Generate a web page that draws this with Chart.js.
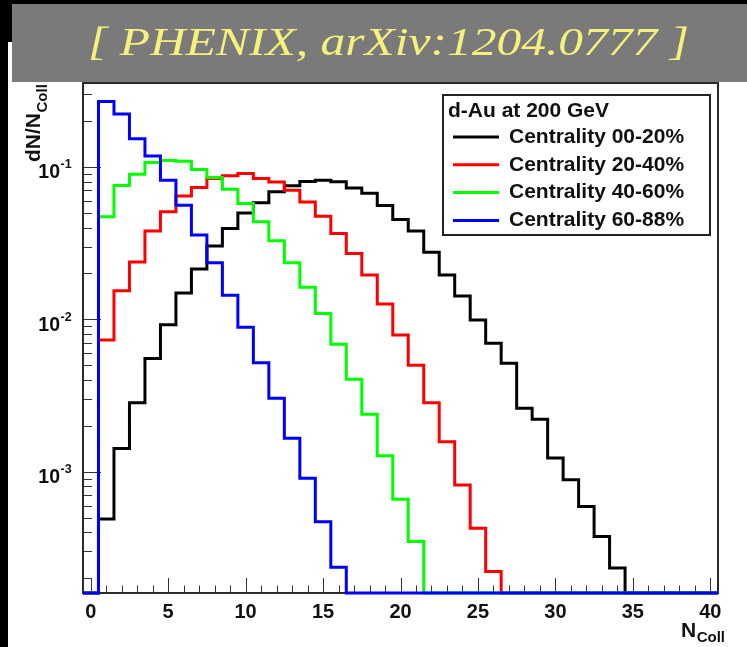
<!DOCTYPE html>
<html>
<head>
<meta charset="utf-8">
<script src="https://cdn.jsdelivr.net/npm/chart.js@4.4.1/dist/chart.umd.min.js"></script>
<style>
  html, body { margin: 0; padding: 0; background: #000; }
  canvas { display: block; }
</style>
</head>
<body>
<canvas id="chart" width="747" height="647" style="width:747px;height:647px"></canvas>
<script>
// N_coll bins (integer centred, width 1)
const N_COLL_BINS = [0, 1, 2, 3, 4, 5, 6, 7, 8, 9, 10, 11, 12, 13, 14, 15, 16, 17, 18, 19, 20,
                     21, 22, 23, 24, 25, 26, 27, 28, 29, 30, 31, 32, 33, 34, 35, 36, 37, 38, 39, 40];

// dN/N_coll per centrality class
const CENT_00_20 = [0, 0.00049, 0.00142, 0.00283, 0.00553, 0.0092, 0.0149, 0.0214, 0.0302, 0.0394,
                    0.0499, 0.0581, 0.0686, 0.0752, 0.0803, 0.0818, 0.0800, 0.0727, 0.0670, 0.0558,
                    0.0452, 0.0379, 0.0275, 0.0195, 0.0142, 0.00989, 0.00696, 0.00514, 0.00261, 0.00221,
                    0.00123, 0.000884, 0.00059, 0.000376, 0.000233, 0, 0, 0, 0, 0, 0];
const CENT_20_40 = [0, 0.0073, 0.0154, 0.0238, 0.038, 0.0507, 0.0643, 0.0732, 0.0839, 0.0873,
                    0.0904, 0.0839, 0.0797, 0.0703, 0.0589, 0.0475, 0.0366, 0.027, 0.0195, 0.0126,
                    0.0079, 0.0050, 0.00283, 0.00157, 0.000818, 0.000425, 0.000221, 0, 0, 0,
                    0, 0, 0, 0, 0, 0, 0, 0, 0, 0, 0];
const CENT_40_60 = [0, 0.047, 0.0755, 0.0894, 0.107, 0.110, 0.109, 0.096, 0.0852, 0.0714,
                    0.0575, 0.0436, 0.0327, 0.0235, 0.0162, 0.0109, 0.00687, 0.00404, 0.00238, 0.00127,
                    0.000659, 0.000348, 0, 0, 0, 0, 0, 0, 0, 0,
                    0, 0, 0, 0, 0, 0, 0, 0, 0, 0, 0];
const CENT_60_88 = [0, 0.268, 0.222, 0.153, 0.118, 0.0818, 0.0561, 0.0357, 0.0235, 0.0144,
                    0.00885, 0.00519, 0.00303, 0.00166, 0.000906, 0.00047, 0.000236, 0, 0, 0,
                    0, 0, 0, 0, 0, 0, 0, 0, 0, 0,
                    0, 0, 0, 0, 0, 0, 0, 0, 0, 0, 0];

const SERIES_LABELS = ['Centrality 00-20%', 'Centrality 20-40%', 'Centrality 40-60%', 'Centrality 60-88%'];
const SERIES_COLORS = ['#000000', '#ff0000', '#00ff00', '#0000ff'];

const X_TICKS = [0, 5, 10, 15, 20, 25, 30, 35, 40];
const Y_DECADES = [0.001, 0.01, 0.1];
const Y_TICK_BASE = ['10', '10', '10'];
const Y_TICK_EXP = ['-3', '-2', '-1'];

const X_MIN = -0.5, X_MAX = 40.5;
const Y_MIN = 1.6e-4, Y_MAX = 0.355;

const BANNER = '[ PHENIX, arXiv:1204.0777 ]';
const LEGEND_HEADER = 'd-Au at 200 GeV';
const SANS = '"Liberation Sans", Arial, Helvetica, sans-serif';

// Histogram outline: one point at each bin's low edge, empty bins sit on the axis floor
function histPoints(values) {
  const pts = values.map((v, i) => ({ x: N_COLL_BINS[i] - 0.5, y: v > 0 ? v : Y_MIN }));
  pts.push({ x: N_COLL_BINS[N_COLL_BINS.length - 1] + 0.5, y: pts[pts.length - 1].y });
  return pts;
}

const SERIES = [CENT_00_20, CENT_20_40, CENT_40_60, CENT_60_88];

const datasets = SERIES.map((vals, i) => ({
  label: SERIES_LABELS[i],
  data: histPoints(vals),
  borderColor: SERIES_COLORS[i],
  backgroundColor: SERIES_COLORS[i],
  borderWidth: 3,
  stepped: 'before',
  pointRadius: 0,
  fill: false,
  borderJoinStyle: 'miter',
  borderCapStyle: 'butt',
  order: SERIES.length - 1 - i,
  clip: 4
}));

// Page backdrop and reference banner
const pagePlugin = {
  id: 'page',
  beforeDraw(chart) {
    const c = chart.ctx;
    c.save();
    c.fillStyle = '#000';
    c.fillRect(0, 0, chart.width, chart.height);
    c.fillStyle = '#fff';
    c.fillRect(8, 42, chart.width - 8, chart.height - 42);
    c.fillStyle = '#7a7a7a';
    c.fillRect(12, 4, chart.width - 12, 78);
    c.font = 'italic 39px "Liberation Serif", "DejaVu Serif", serif';
    const w = c.measureText(BANNER).width;
    c.translate(388.5, 55);
    c.scale(601 / w, 1);
    c.textAlign = 'center';
    c.textBaseline = 'alphabetic';
    c.fillStyle = '#f6f17c';
    c.fillText(BANNER, 0, 0);
    c.restore();
  }
};

// Frame with inward ROOT-style ticks
const framePlugin = {
  id: 'frame',
  beforeDatasetsDraw(chart) {
    const { ctx: c, chartArea: a, scales: { x, y } } = chart;
    c.save();
    c.strokeStyle = '#333';
    c.lineWidth = 1;
    for (let v = Math.ceil(x.min); v <= x.max; v++) {
      const px = Math.round(x.getPixelForValue(v)) + 0.5;
      const len = X_TICKS.includes(v) ? 15 : 7.5;
      c.beginPath();
      c.moveTo(px, a.bottom);
      c.lineTo(px, a.bottom - len);
      c.stroke();
    }
    const e0 = Math.floor(Math.log10(y.min)), e1 = Math.ceil(Math.log10(y.max));
    for (let e = e0; e <= e1; e++) {
      for (let k = 1; k <= 9; k++) {
        const v = k * Math.pow(10, e);
        if (v < y.min || v > y.max) continue;
        const py = Math.round(y.getPixelForValue(v)) + 0.5;
        const len = k === 1 ? 18 : 9;
        c.beginPath();
        c.moveTo(a.left, py);
        c.lineTo(a.left + len, py);
        c.stroke();
      }
    }
    c.lineWidth = 2;
    c.strokeStyle = '#2a2a2a';
    c.strokeRect(a.left, a.top, a.right - a.left, a.bottom - a.top);
    c.restore();
  }
};

// Log tick labels, axis titles and legend box
const textPlugin = {
  id: 'texts',
  afterDraw(chart) {
    const { ctx: c, scales: { y } } = chart;
    c.save();
    c.fillStyle = '#111';
    c.textBaseline = 'alphabetic';
    Y_DECADES.forEach((v, i) => {
      const py = y.getPixelForValue(v);
      c.font = `bold 19.5px ${SANS}`;
      c.textAlign = 'right';
      c.fillText(Y_TICK_BASE[i], 60, py + 11.5);
      c.font = `bold 12.5px ${SANS}`;
      c.textAlign = 'left';
      c.fillText(Y_TICK_EXP[i], 60.5, py + 1.5);
    });

    // y title, reading upward
    c.save();
    c.translate(40, 162);
    c.rotate(-Math.PI / 2);
    c.textAlign = 'left';
    c.font = `bold 21px ${SANS}`;
    c.fillText('dN/N', 0, 0);
    const wy = c.measureText('dN/N').width;
    c.font = `bold 15px ${SANS}`;
    c.fillText('Coll', wy + 0.5, 7);
    c.restore();

    // x title
    c.textAlign = 'left';
    c.font = `bold 21px ${SANS}`;
    c.fillText('N', 681, 637);
    const wx = c.measureText('N').width;
    c.font = `bold 15px ${SANS}`;
    c.fillText('Coll', 681 + wx + 0.5, 642);

    // legend
    c.lineWidth = 2;
    c.strokeStyle = '#222';
    c.fillStyle = '#fff';
    c.fillRect(443, 95, 267, 140);
    c.strokeRect(443, 95, 267, 140);
    c.fillStyle = '#111';
    c.font = `bold 21px ${SANS}`;
    c.fillText(LEGEND_HEADER, 448, 117);
    chart.data.datasets.forEach((ds, i) => {
      const ly = 137 + i * 27.8;
      c.strokeStyle = ds.borderColor;
      c.lineWidth = 3;
      c.beginPath();
      c.moveTo(453, ly);
      c.lineTo(499, ly);
      c.stroke();
      c.fillStyle = '#111';
      c.fillText(ds.label, 509, ly + 5.8);
    });
    c.restore();
  }
};

new Chart(document.getElementById('chart'), {
  type: 'line',
  data: { datasets },
  options: {
    responsive: false,
    animation: false,
    devicePixelRatio: 1,
    layout: { padding: { left: 0, right: 29, top: 83, bottom: 0 } },
    plugins: { legend: { display: false }, tooltip: { enabled: false } },
    scales: {
      x: {
        type: 'linear',
        min: X_MIN,
        max: X_MAX,
        grid: { display: false, drawTicks: false },
        border: { display: false },
        ticks: {
          color: '#111',
          padding: 7,
          maxRotation: 0,
          font: { family: SANS, size: 20, weight: 'bold' }
        },
        afterBuildTicks: s => { s.ticks = X_TICKS.map(v => ({ value: v })); },
        afterFit: s => { s.height = 54; }
      },
      y: {
        type: 'logarithmic',
        min: Y_MIN,
        max: Y_MAX,
        grid: { display: false, drawTicks: false },
        border: { display: false },
        ticks: { display: false },
        afterFit: s => { s.width = 83; }
      }
    }
  },
  plugins: [pagePlugin, framePlugin, textPlugin]
});
</script>
</body>
</html>
